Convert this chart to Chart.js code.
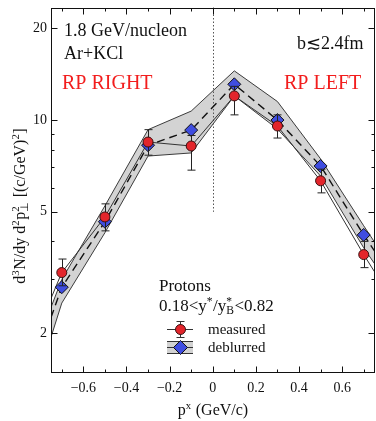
<!DOCTYPE html>
<html>
<head>
<meta charset="utf-8">
<script src="https://cdn.jsdelivr.net/npm/chart.js@4/dist/chart.umd.min.js"></script>
<style>
  html, body { margin: 0; padding: 0; background: #fff; overflow: hidden; }
  #wrap { width: 382px; height: 421px; }
</style>
</head>
<body>
<div id="wrap"><canvas id="c" width="382" height="421"></canvas></div>
<script>
// Proton yields vs p^x, 1.8 GeV/nucleon Ar+KCl, b <= 2.4 fm
const pX = [-0.7, -0.5, -0.3, -0.1, 0.1, 0.3, 0.5, 0.7];
const measured = [3.16, 4.81, 8.47, 8.22, 12.0, 9.56, 6.32, 3.62];
const measuredHigh = [3.5, 5.31, 9.3, 8.9, 12.9, 10.4, 6.9, 4.0];
const measuredLow = [2.86, 4.33, 7.67, 6.85, 10.4, 8.73, 5.77, 3.28];
const deblurred = [2.83, 4.64, 8.27, 9.27, 13.1, 10.0, 7.07, 4.2];

// curves continue to the frame edges
const curveX = [-0.75, -0.7, -0.5, -0.3, -0.1, 0.1, 0.3, 0.5, 0.7, 0.75];
const measuredCurve = [2.60, 3.16, 4.81, 8.47, 8.22, 12.0, 9.56, 6.32, 3.62, 3.18];
const deblurredCurve = [2.25, 2.83, 4.64, 8.27, 9.27, 13.1, 10.0, 7.07, 4.2, 3.72];
const bandUpper = [2.43, 3.0, 5.23, 9.3, 10.7, 14.5, 11.5, 7.46, 4.5, 3.98];
const bandLower = [1.94, 2.51, 4.27, 7.62, 7.8, 12.0, 9.35, 6.55, 3.81, 3.38];

const xTicks = [-0.6, -0.4, -0.2, 0, 0.2, 0.4, 0.6];
const xTickLabels = ['\u22120.6', '\u22120.4', '\u22120.2', '0', '0.2', '0.4', '0.6'];
const xMinorTicks = [-0.7, -0.5, -0.3, -0.1, 0.1, 0.3, 0.5, 0.7];
const yTicks = [2, 5, 10, 20];
const yMinorTicks = [3, 4, 6, 7, 8, 9];

const SERIF = '"Liberation Serif", "Times New Roman", serif';
const pts = (xs, ys) => xs.map((x, i) => ({ x, y: ys[i] }));

// draws text runs with superscripts / subscripts; y is the baseline
function richWidth(ctx, segs, size) {
  let w = 0;
  for (const s of segs) {
    if (!s.sup && !s.sub) { ctx.font = size + 'px ' + SERIF; w += ctx.measureText(s.t).width; }
    else {
      ctx.font = (size * 0.68) + 'px ' + SERIF;
      w += Math.max(s.sup ? ctx.measureText(s.sup).width : 0, s.sub ? ctx.measureText(s.sub).width : 0) + 0.5;
    }
  }
  return w;
}
function drawRich(ctx, segs, x, y, size, align, color) {
  ctx.save();
  ctx.fillStyle = color || '#111';
  ctx.textBaseline = 'alphabetic';
  ctx.textAlign = 'left';
  let cx = x;
  const w = richWidth(ctx, segs, size);
  if (align === 'center') cx = x - w / 2;
  for (const s of segs) {
    if (!s.sup && !s.sub) {
      ctx.font = size + 'px ' + SERIF;
      ctx.fillText(s.t, cx, y);
      cx += ctx.measureText(s.t).width;
    } else {
      ctx.font = (size * 0.68) + 'px ' + SERIF;
      let ww = 0;
      if (s.sup) { ctx.fillText(s.sup, cx, y - size * 0.38); ww = Math.max(ww, ctx.measureText(s.sup).width); }
      if (s.sub) { ctx.fillText(s.sub, cx, y + size * 0.2); ww = Math.max(ww, ctx.measureText(s.sub).width); }
      cx += ww + 0.5;
    }
  }
  ctx.restore();
}

const framePlugin = {
  id: 'frame',
  beforeDatasetDraw(chart, args) {
    // vertical dotted line at p^x = 0 and error bars under the measured markers
    const { ctx, scales: { x, y }, chartArea: a } = chart;
    if (args.index === 0) {
      ctx.save();
      ctx.strokeStyle = '#555';
      ctx.lineWidth = 1;
      ctx.setLineDash([1.5, 2]);
      const px = Math.round(x.getPixelForValue(0)) + 0.5;
      ctx.beginPath();
      ctx.moveTo(px, a.top);
      ctx.lineTo(px, y.getPixelForValue(5));
      ctx.stroke();
      ctx.restore();
    }
    if (args.index === 5) {
      ctx.save();
      ctx.strokeStyle = '#222';
      ctx.lineWidth = 1;
      pX.forEach((v, i) => {
        const px = Math.round(x.getPixelForValue(v)) + 0.5;
        const yh = y.getPixelForValue(measuredHigh[i]);
        const yl = y.getPixelForValue(measuredLow[i]);
        ctx.beginPath();
        ctx.moveTo(px, yh); ctx.lineTo(px, yl);
        ctx.moveTo(px - 4, yh); ctx.lineTo(px + 4, yh);
        ctx.moveTo(px - 4, yl); ctx.lineTo(px + 4, yl);
        ctx.stroke();
      });
      ctx.restore();
    }
  },
  afterDraw(chart) {
    const { ctx, scales: { x, y }, chartArea: a } = chart;
    ctx.save();
    ctx.strokeStyle = '#111';
    ctx.lineWidth = 1;
    const L = Math.round(a.left) + 0.5, R = Math.round(a.right) - 0.5;
    const T = Math.round(a.top) + 0.5, B = Math.round(a.bottom) - 0.5;
    ctx.strokeRect(L, T, R - L, B - T);
    ctx.beginPath();
    const xt = (v, len) => {
      const px = Math.round(x.getPixelForValue(v)) + 0.5;
      ctx.moveTo(px, B); ctx.lineTo(px, B - len);
      ctx.moveTo(px, T); ctx.lineTo(px, T + len);
    };
    const yt = (v, len) => {
      const py = Math.round(y.getPixelForValue(v)) + 0.5;
      ctx.moveTo(L, py); ctx.lineTo(L + len, py);
      ctx.moveTo(R, py); ctx.lineTo(R - len, py);
    };
    xTicks.forEach(v => xt(v, 6));
    xMinorTicks.forEach(v => xt(v, 3));
    yTicks.forEach(v => yt(v, 6));
    yMinorTicks.forEach(v => yt(v, 3));
    ctx.stroke();
    ctx.restore();

    // axis titles
    drawRich(ctx, [{ t: 'p' }, { sup: 'x' }, { t: ' (GeV/c)' }], 213, 415, 16, 'center');
    ctx.save();
    ctx.translate(25, 206);
    ctx.rotate(-Math.PI / 2);
    drawRich(ctx, [{ t: 'd' }, { sup: '3' }, { t: 'N/dy d' }, { sup: '2' }, { t: 'p' }, { sup: '2', sub: '\u22a5' }, { t: ' [(c/GeV)' }, { sup: '2' }, { t: ']' }], 0, 0, 16, 'center');
    ctx.restore();

    // annotations
    drawRich(ctx, [{ t: '1.8 GeV/nucleon' }], 64, 36, 18, 'left');
    drawRich(ctx, [{ t: 'Ar+KCl' }], 64, 59, 18, 'left');
    drawRich(ctx, [{ t: 'b\u2272' + '2.4fm' }], 297, 49, 18, 'left');
    drawRich(ctx, [{ t: 'RP RIGHT' }], 62, 89, 20, 'left', '#f21d1d');
    drawRich(ctx, [{ t: 'RP LEFT' }], 284, 89, 20, 'left', '#f21d1d');
    drawRich(ctx, [{ t: 'Protons' }], 159, 291, 17, 'left');
    drawRich(ctx, [{ t: '0.18<y' }, { sup: '*' }, { t: '/y' }, { sup: '*', sub: 'B' }, { t: '<0.82' }], 159, 311, 17, 'left');

    // legend
    const lx0 = 167, lx1 = 193, lc = 180;
    ctx.save();
    ctx.lineWidth = 1;
    // measured entry
    let ly = 329.5;
    ctx.strokeStyle = '#333';
    ctx.beginPath();
    ctx.moveTo(lx0, ly); ctx.lineTo(lx1, ly);
    ctx.moveTo(lc + 0.5, ly - 8); ctx.lineTo(lc + 0.5, ly + 8);
    ctx.moveTo(lc - 3.5, ly - 8); ctx.lineTo(lc + 4.5, ly - 8);
    ctx.moveTo(lc - 3.5, ly + 8); ctx.lineTo(lc + 4.5, ly + 8);
    ctx.stroke();
    ctx.fillStyle = '#e3252b';
    ctx.beginPath(); ctx.arc(lc + 0.5, ly, 5, 0, Math.PI * 2); ctx.fill();
    ctx.strokeStyle = '#3a1010'; ctx.stroke();
    // deblurred entry
    ly = 347.5;
    ctx.fillStyle = '#d2d2d2';
    ctx.fillRect(lx0, ly - 6, lx1 - lx0, 12);
    ctx.strokeStyle = '#333';
    ctx.beginPath();
    ctx.moveTo(lx0, ly - 6); ctx.lineTo(lx1, ly - 6);
    ctx.moveTo(lx0, ly + 6); ctx.lineTo(lx1, ly + 6);
    ctx.moveTo(lx0, ly); ctx.lineTo(lx1, ly);
    ctx.stroke();
    ctx.fillStyle = '#3f4de0';
    ctx.beginPath();
    ctx.moveTo(lc + 0.5, ly - 7); ctx.lineTo(lc + 7.5, ly); ctx.lineTo(lc + 0.5, ly + 7); ctx.lineTo(lc - 6.5, ly); ctx.closePath();
    ctx.fill(); ctx.strokeStyle = '#111'; ctx.stroke();
    ctx.restore();
    drawRich(ctx, [{ t: 'measured' }], 208, 334, 15, 'left');
    drawRich(ctx, [{ t: 'deblurred' }], 208, 352, 15, 'left');
  }
};

// fixed axis sizes; no extra room reserved for edge labels
const noPad = s => { s.paddingTop = 0; s.paddingBottom = 0; s.paddingLeft = 0; s.paddingRight = 0; };

new Chart(document.getElementById('c'), {
  type: 'line',
  data: {
    datasets: [
      { data: pts(curveX, bandUpper), fill: '+1', backgroundColor: '#d3d3d3', borderColor: '#3c3c3c', borderWidth: 1, pointRadius: 0, tension: 0, order: 10 },
      { data: pts(curveX, bandLower), fill: false, borderColor: '#3c3c3c', borderWidth: 1, pointRadius: 0, tension: 0, order: 9 },
      { data: pts(curveX, measuredCurve), fill: false, borderColor: '#333', borderWidth: 1, pointRadius: 0, tension: 0, order: 8 },
      { data: pts(curveX, deblurredCurve), fill: false, borderColor: '#111', borderWidth: 1.4, borderDash: [8, 5], pointRadius: 0, tension: 0, order: 7 },
      { data: pts(pX, deblurred), showLine: false, pointStyle: 'rectRot', pointRadius: 6.5, backgroundColor: '#3f4de0', borderColor: '#111', borderWidth: 1, order: 6 },
      { data: pts(pX, measured), showLine: false, pointStyle: 'circle', pointRadius: 5, backgroundColor: '#e3252b', borderColor: '#3a1010', borderWidth: 1, order: 5 }
    ]
  },
  options: {
    responsive: false,
    animation: false,
    events: [],
    layout: { padding: { top: 6, right: 1, left: 0, bottom: 0 } },
    plugins: { legend: { display: false }, tooltip: { enabled: false } },
    scales: {
      x: {
        type: 'linear', min: -0.75, max: 0.75,
        afterBuildTicks: s => { s.ticks = xTicks.map(v => ({ value: v })); },
        afterFit: s => { s.height = 48; noPad(s); },
        grid: { display: false, drawTicks: false },
        border: { display: false },
        ticks: {
          autoSkip: false, maxRotation: 0, padding: 7, color: '#111',
          font: { family: SERIF, size: 14 },
          callback: (v, i) => xTickLabels[i]
        }
      },
      y: {
        type: 'logarithmic', min: 1.48, max: 23.4,
        afterBuildTicks: s => { s.ticks = yTicks.map(v => ({ value: v })); },
        afterFit: s => { s.width = 51; noPad(s); },
        grid: { display: false, drawTicks: false },
        border: { display: false },
        ticks: {
          autoSkip: false, padding: 4, color: '#111',
          font: { family: SERIF, size: 14 },
          callback: v => String(v)
        }
      }
    }
  },
  plugins: [framePlugin]
});
</script>
</body>
</html>
